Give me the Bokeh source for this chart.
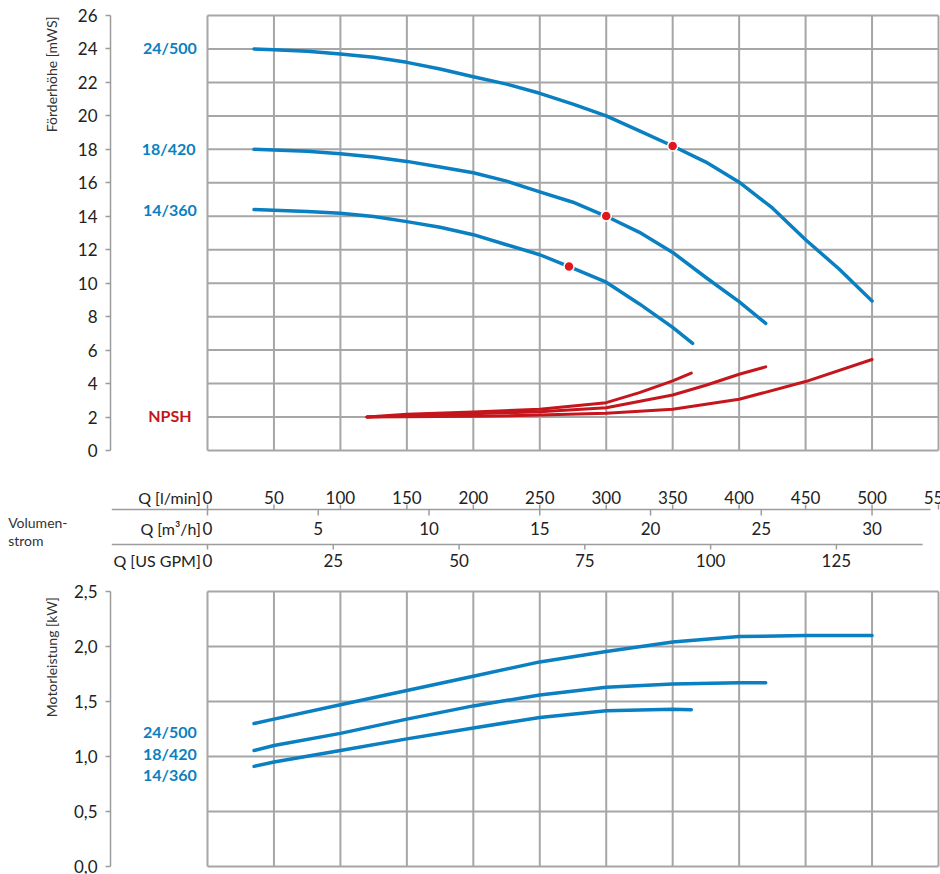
from math import pi

from bokeh.plotting import figure
from bokeh.layouts import column, row
from bokeh.models import Range1d, FixedTicker, ColumnDataSource
from bokeh.core.properties import value
from bokeh.embed import file_html
from bokeh.resources import INLINE

# --- data (flow in l/min) ---
pumps = ["24/500", "18/420", "14/360"]

# head curves [mWS]
q_24 = [35, 50, 75, 100, 125, 150, 175, 200, 225, 250, 275, 300, 325, 350, 375, 400, 425, 450, 475, 500]
h_24 = [24.0, 23.96, 23.86, 23.7, 23.5, 23.2, 22.8, 22.34, 21.9, 21.35, 20.7, 20.0, 19.1, 18.2, 17.24, 16.04, 14.5, 12.6, 10.86, 8.94]
q_18 = [35, 50, 75, 100, 125, 150, 175, 200, 225, 250, 275, 300, 325, 350, 375, 400, 420]
h_18 = [18.0, 17.96, 17.88, 17.74, 17.54, 17.28, 16.94, 16.6, 16.1, 15.46, 14.84, 14.0, 13.04, 11.84, 10.34, 8.9, 7.6]
q_14 = [35, 50, 75, 100, 125, 150, 175, 200, 225, 250, 273, 300, 325, 350, 365]
h_14 = [14.4, 14.36, 14.28, 14.18, 13.98, 13.68, 13.34, 12.9, 12.3, 11.7, 10.96, 10.06, 8.76, 7.36, 6.4]

# duty points
duty_q = [350, 300, 272]
duty_h = [18.2, 14.02, 11.0]

# NPSH curves [m]
npsh_q_14 = [120, 150, 200, 250, 300, 325, 350, 364]
npsh_14 = [2.0, 2.16, 2.3, 2.46, 2.86, 3.46, 4.16, 4.63]
npsh_q_18 = [120, 150, 200, 250, 300, 350, 375, 400, 420]
npsh_18 = [2.0, 2.08, 2.2, 2.32, 2.56, 3.32, 3.9, 4.56, 5.0]
npsh_q_24 = [120, 200, 250, 300, 350, 400, 450, 500]
npsh_24 = [2.0, 2.04, 2.12, 2.22, 2.46, 3.06, 4.12, 5.44]

# motor power [kW]
pq_24 = [35, 50, 100, 150, 200, 250, 300, 350, 400, 450, 500]
p_24 = [1.3, 1.34, 1.47, 1.6, 1.73, 1.86, 1.955, 2.04, 2.09, 2.1, 2.1]
pq_18 = [35, 50, 100, 150, 200, 250, 300, 350, 400, 420]
p_18 = [1.055, 1.1, 1.21, 1.34, 1.46, 1.56, 1.63, 1.66, 1.67, 1.67]
pq_14 = [35, 50, 100, 150, 200, 250, 300, 350, 364]
p_14 = [0.91, 0.95, 1.055, 1.16, 1.26, 1.355, 1.415, 1.43, 1.425]

# ticks
lpm_ticks = [0, 50, 100, 150, 200, 250, 300, 350, 400, 450, 500, 550]
m3h_ticks = [0, 5, 10, 15, 20, 25, 30]
gpm_ticks = [0, 25, 50, 75, 100, 125]
head_ticks = [0, 2, 4, 6, 8, 10, 12, 14, 16, 18, 20, 22, 24, 26]
power_ticks = [0, 0.5, 1.0, 1.5, 2.0, 2.5]
power_labels = ["0,0", "0,5", "1,0", "1,5", "2,0", "2,5"]

# curve name labels (x in l/min, left of the grid)
head_label_x = [-8, -9, -8, -12]
head_label_y = [24.1, 18.03, 14.4, 2.1]
power_label_y = [1.23, 1.03, 0.835]

BLUE = "#0a7fc1"
RED = "#c4161c"
DOT = "#e3161d"
GRID = "#a6a6a6"
AXIS = "#9c9c9c"
TXT = "#222222"
FONT = "Lato"

LPM_TO_GPM = 3.78541
LPM_TO_M3H = 0.06

# horizontal scale shared by all panels: 0 l/min at x=207, 550 at x=938
px_q = 731 / 550
x_start = -97 / px_q
x_end = 550 + 2 / px_q
xr = Range1d(x_start, x_end)


def bare(width, height, xrange, yrange, **borders):
    p = figure(width=width, height=height, x_range=xrange, y_range=yrange,
               output_backend="svg", toolbar_location=None,
               x_axis_location=None, **borders)
    p.grid.visible = False
    p.outline_line_color = None
    p.background_fill_color = "white"
    p.border_fill_color = "white"
    return p


def side_label(height, text, y_top):
    lab = bare(60, height, Range1d(0, 60), Range1d(0, height), y_axis_location=None,
               min_border=0)
    lab.text(x=[51], y=[height - y_top], text=[text], angle=pi / 2,
             text_font=value(FONT), text_font_size="14px", text_color="#333333",
             text_align="right", text_baseline="middle")
    return lab


def chart(height, yr, top, bottom, y_ticks):
    p = bare(880, height, xr, yr, min_border_left=50, min_border_right=0,
             min_border_top=top, min_border_bottom=bottom)
    # grid box
    p.segment(x0=[0] * len(y_ticks), x1=[550] * len(y_ticks), y0=y_ticks, y1=y_ticks,
              line_color=GRID, line_width=2)
    p.segment(x0=lpm_ticks, x1=lpm_ticks, y0=[y_ticks[0]] * len(lpm_ticks),
              y1=[y_ticks[-1]] * len(lpm_ticks), line_color=GRID, line_width=2)
    ax = p.yaxis[0]
    ax.ticker = FixedTicker(ticks=y_ticks)
    ax.bounds = (y_ticks[0], y_ticks[-1])
    ax.axis_line_color = AXIS
    ax.axis_line_width = 1.5
    ax.major_tick_line_color = AXIS
    ax.major_tick_line_width = 1.5
    ax.major_tick_out = 5
    ax.major_tick_in = 0
    ax.minor_tick_line_color = None
    ax.major_label_standoff = 8
    ax.major_label_text_font = FONT
    ax.major_label_text_font_size = "17px"
    ax.major_label_text_color = TXT
    return p


# --- head chart: 26 at y=15, 0 at y=450 ---
hpx = 435 / 26
p1 = chart(460, Range1d(-2 / hpx, 26 + 2 / hpx), 13, 8, head_ticks)

for qq, nn in [(npsh_q_14, npsh_14), (npsh_q_18, npsh_18), (npsh_q_24, npsh_24)]:
    p1.line(qq, nn, line_color=RED, line_width=3, line_join="round", line_cap="round")
for qq, hh in [(q_24, h_24), (q_18, h_18), (q_14, h_14)]:
    p1.line(qq, hh, line_color=BLUE, line_width=3.5, line_join="round", line_cap="round")
p1.scatter(duty_q, duty_h, size=10, fill_color=DOT, line_color="white", line_width=1.5)

names1 = ColumnDataSource(dict(x=head_label_x, y=head_label_y, text=pumps + ["NPSH"],
                               color=[BLUE, BLUE, BLUE, RED]))
p1.text(x="x", y="y", text="text", text_color="color", source=names1,
        text_font=value(FONT), text_font_style="bold", text_font_size="16px",
        text_align="right", text_baseline="middle")

top_row = row(side_label(460, "Förderhöhe [mWS]", 3), p1)

# --- flow scales (y counted downward in px inside this strip) ---
mid_x0 = -207 / px_q
mid_x1 = 550 + 2 / px_q
p2 = bare(940, 120, Range1d(mid_x0, mid_x1), Range1d(120, 0), y_axis_location=None,
          min_border=0)
p2.extra_x_ranges = {
    "gpm": Range1d(mid_x0 / LPM_TO_GPM, mid_x1 / LPM_TO_GPM),
    "m3h": Range1d(mid_x0 * LPM_TO_M3H, mid_x1 * LPM_TO_M3H),
}
line1, line2 = 49, 84
scale_start, lpm_end, gpm_end = -72, 544, 538
num = dict(text_font=value(FONT), text_font_size="17px", text_color=TXT,
           text_align="center", text_baseline="middle")

p2.segment(x0=[scale_start] * 2, x1=[lpm_end, gpm_end], y0=[line1, line2], y1=[line1, line2],
           line_color=AXIS, line_width=1.5)
# l/min: ticks up, labels above first line
p2.segment(x0=lpm_ticks, x1=lpm_ticks, y0=[line1] * len(lpm_ticks), y1=[line1 - 5] * len(lpm_ticks),
           line_color=AXIS, line_width=1.5)
p2.text(x=lpm_ticks, y=[line1 - 12] * len(lpm_ticks), text=[str(t) for t in lpm_ticks], **num)
# m3/h: ticks down from first line
p2.segment(x0=m3h_ticks, x1=m3h_ticks, y0=[line1] * len(m3h_ticks), y1=[line1 + 6] * len(m3h_ticks),
           x_range_name="m3h", line_color=AXIS, line_width=1.5)
p2.text(x=m3h_ticks, y=[line1 + 19] * len(m3h_ticks), text=[str(t) for t in m3h_ticks],
        x_range_name="m3h", **num)
# US GPM: ticks down from second line
p2.segment(x0=gpm_ticks, x1=gpm_ticks, y0=[line2] * len(gpm_ticks), y1=[line2 + 5] * len(gpm_ticks),
           x_range_name="gpm", line_color=AXIS, line_width=1.5)
p2.text(x=gpm_ticks, y=[line2 + 16] * len(gpm_ticks), text=[str(t) for t in gpm_ticks],
        x_range_name="gpm", **num)

p2.text(x=[-5] * 3, y=[line1 - 12, line1 + 19, line2 + 16],
        text=["Q [l/min]", "Q [m³/h]", "Q [US GPM]"],
        text_font=value(FONT), text_font_size="16px", text_color=TXT,
        text_align="right", text_baseline="middle")
p2.text(x=[-150] * 2, y=[line1 + 13, line1 + 31], text=["Volumen-", "strom"],
        text_font=value(FONT), text_font_size="14px", text_color="#333333",
        text_align="left", text_baseline="middle")

# --- power chart: 2,5 at y=591, 0 at y=866 ---
ppx = 275 / 2.5
p3 = chart(294, Range1d(-2 / ppx, 2.5 + 2 / ppx), 9, 6, power_ticks)
p3.yaxis[0].major_label_overrides = dict(zip(power_ticks, power_labels))

for qq, pp in [(pq_24, p_24), (pq_18, p_18), (pq_14, p_14)]:
    p3.line(qq, pp, line_color=BLUE, line_width=3.5, line_join="round", line_cap="round")

names3 = ColumnDataSource(dict(x=[-8] * 3, y=power_label_y, text=pumps))
p3.text(x="x", y="y", text="text", source=names3, text_color=BLUE,
        text_font=value(FONT), text_font_style="bold", text_font_size="16px",
        text_align="right", text_baseline="middle")

bottom_row = row(side_label(294, "Motorleistung [kW]", 8), p3)

layout = column(top_row, p2, bottom_row)
open("out.html", "w", encoding="utf-8").write(file_html(layout, INLINE))
